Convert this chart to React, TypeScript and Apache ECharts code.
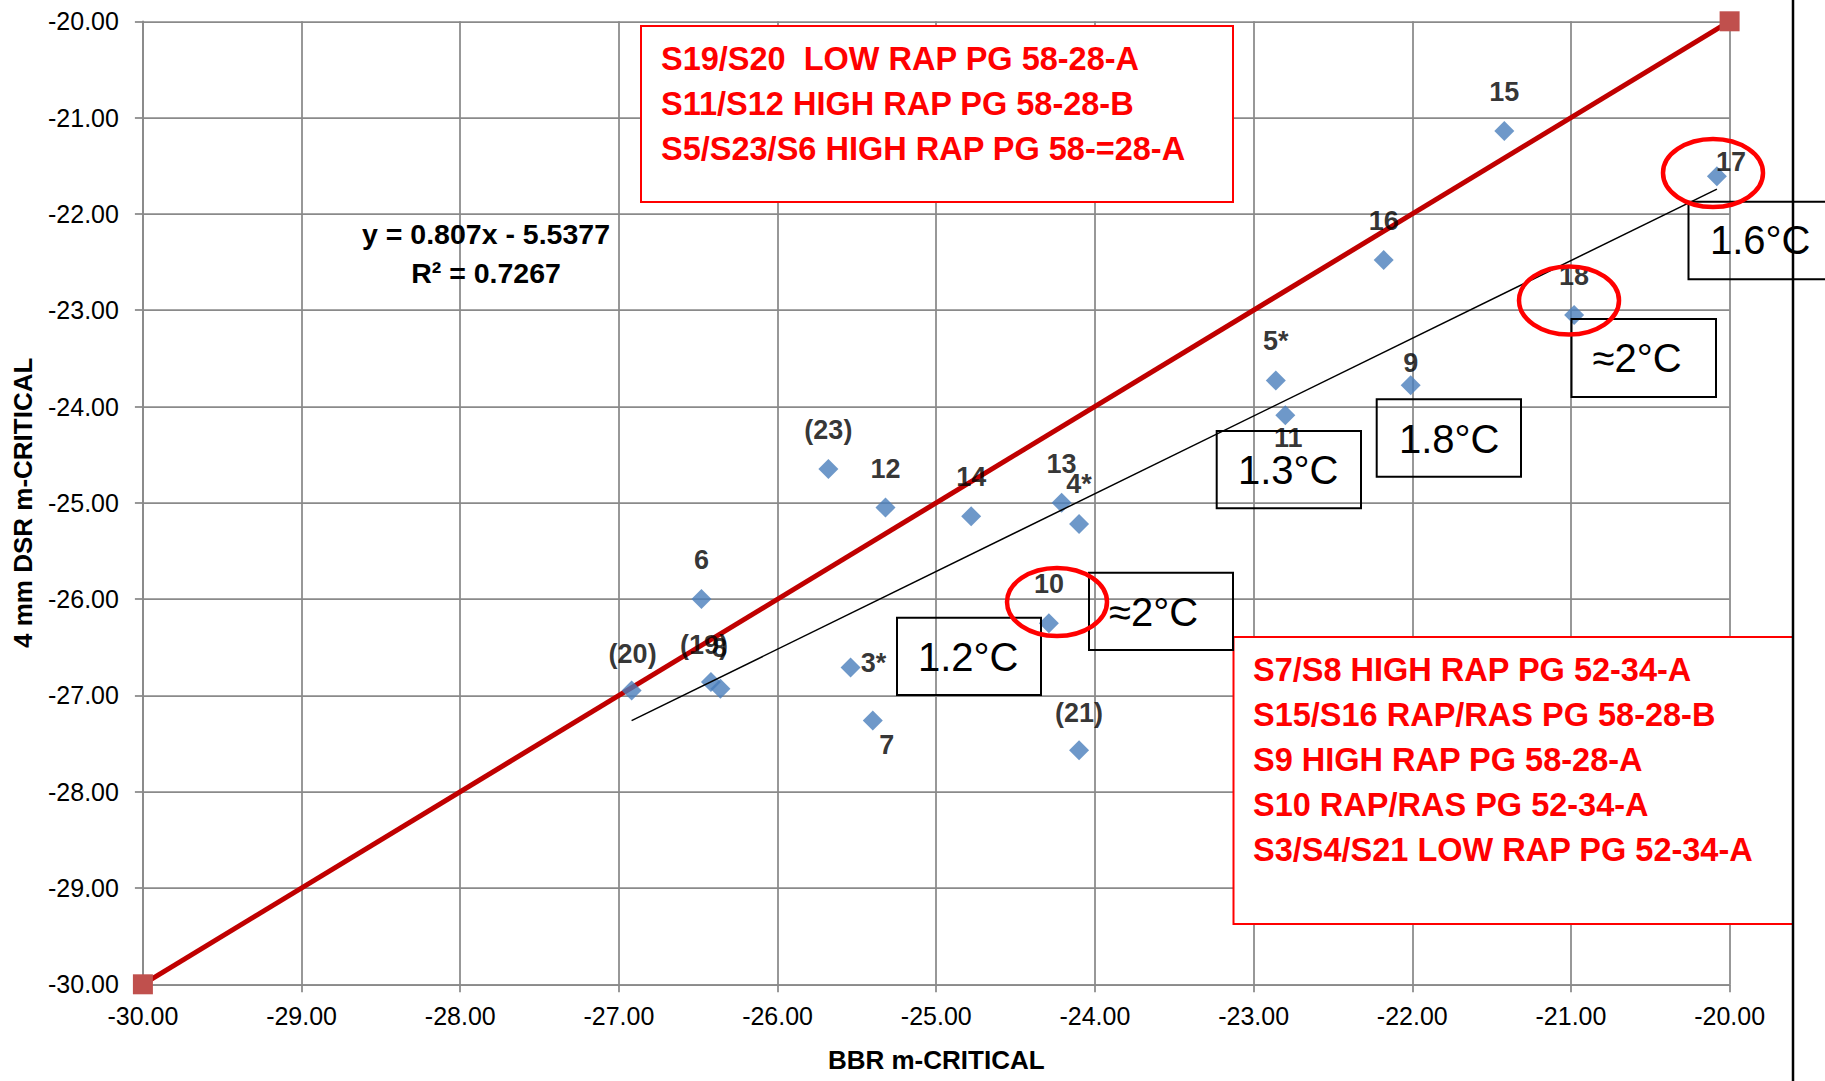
import React, { useEffect, useRef } from 'react';
import * as echarts from 'echarts';

const FONT = "'Liberation Sans', Arial, sans-serif";

// ---- Data ----
const POINT_LABELS = ['15', '17', '16', '18', '5*', '9', '11', '(23)', '12', '14', '13', '4*', '6', '10', '(20)', '(19)', '8', '3*', '7', '(21)'];
const BBR_X = [-21.42, -20.08, -22.18, -20.98, -22.86, -22.01, -22.80, -25.68, -25.32, -24.78, -24.21, -24.10, -26.48, -24.29, -26.92, -26.42, -26.36, -25.54, -25.40, -24.10];
const DSR_Y = [-21.14, -21.61, -22.48, -23.05, -23.73, -23.78, -24.09, -24.65, -25.05, -25.14, -25.00, -25.22, -26.00, -26.25, -26.95, -26.86, -26.93, -26.71, -27.26, -27.57];

const EQUALITY_X = [-30, -20];
const EQUALITY_Y = [-30, -20];

const TREND_SLOPE = 0.807;
const TREND_INTERCEPT = -5.5377;
const TREND_R2 = 0.7267;

const AXIS_MIN = -30;
const AXIS_MAX = -20;
const AXIS_STEP = 1;

const TOP_NOTES = ['S19/S20  LOW RAP PG 58-28-A', 'S11/S12 HIGH RAP PG 58-28-B', 'S5/S23/S6 HIGH RAP PG 58-=28-A'];
const BOTTOM_NOTES = ['S7/S8 HIGH RAP PG 52-34-A', 'S15/S16 RAP/RAS PG 58-28-B', 'S9 HIGH RAP PG 58-28-A', 'S10 RAP/RAS PG 52-34-A', 'S3/S4/S21 LOW RAP PG 52-34-A'];
const TEMP_NOTES = ['1.6°C', '≈2°C', '1.8°C', '1.3°C', '≈2°C', '1.2°C'];

// ---- Layout / style (not data) ----
const DEFAULT_LABEL_OFFSET = [0, -39];
const LABEL_OFFSETS: Record<string, number[]> = {
  '17': [14, -14],
  '9': [0, -22],
  '11': [3, 23],
  '3*': [23, -4],
  '7': [14, 25],
  '(19)': [-7, -37],
  '8': [-1, -41],
  '4*': [0, -40],
  '(20)': [1, -37],
  '(21)': [0, -37],
};
const TEMP_BOXES = [
  { x: 1688.5, y: 201.7, w: 160, h: 77.6, tx: 1710, ty: 240 },
  { x: 1571.5, y: 319, w: 144.5, h: 78, tx: 1592.6, ty: 358 },
  { x: 1376.7, y: 399.3, w: 144.3, h: 77.4, tx: 1399, ty: 439 },
  { x: 1216.7, y: 431, w: 144.3, h: 77.3, tx: 1238, ty: 470 },
  { x: 1089, y: 572.7, w: 144, h: 77.3, tx: 1109, ty: 611.7 },
  { x: 897, y: 617.7, w: 144, h: 77.3, tx: 918, ty: 656.7 },
];
const ELLIPSES = [
  { cx: 1713, cy: 173 },
  { cx: 1569, cy: 300.5 },
  { cx: 1057, cy: 602 },
];

function buildOption() {
  const xMin = Math.min(...BBR_X);
  const xMax = Math.max(...BBR_X);
  const trendData = [
    [xMin, TREND_SLOPE * xMin + TREND_INTERCEPT],
    [xMax, TREND_SLOPE * xMax + TREND_INTERCEPT],
  ];
  const scatterData = BBR_X.map((x, i) => ({
    value: [x, DSR_Y[i]],
    name: POINT_LABELS[i],
    label: { offset: LABEL_OFFSETS[POINT_LABELS[i]] ?? DEFAULT_LABEL_OFFSET },
  }));
  const equalityData = EQUALITY_X.map((x, i) => [x, EQUALITY_Y[i]]);

  const gridColor = '#8a8a8a';
  const axisCommon = {
    type: 'value',
    min: AXIS_MIN,
    max: AXIS_MAX,
    interval: AXIS_STEP,
    axisLine: { show: true, lineStyle: { color: gridColor, width: 1.75 } },
    axisTick: { show: true, length: 8, lineStyle: { color: gridColor, width: 1.75 } },
    splitLine: { show: true, lineStyle: { color: gridColor, width: 1.75 } },
    axisLabel: {
      color: '#000',
      fontSize: 25,
      fontFamily: FONT,
      formatter: (v: number) => v.toFixed(2),
    },
    nameTextStyle: { color: '#000', fontSize: 26, fontWeight: 'bold', fontFamily: FONT },
    nameLocation: 'middle',
  };

  const graphic: any[] = [];
  // Red note boxes
  graphic.push({
    type: 'rect', z: 100, shape: { x: 641, y: 26, width: 592, height: 176 },
    style: { fill: '#fff', stroke: '#ff0000', lineWidth: 2 },
  });
  TOP_NOTES.forEach((t, i) => graphic.push({
    type: 'text', z: 101, x: 661, y: 59.3 + i * 45,
    style: { text: t, fill: '#ff0000', fontSize: 32.5, fontWeight: 'bold', fontFamily: FONT, verticalAlign: 'middle', align: 'left' },
  }));
  graphic.push({
    type: 'rect', z: 100, shape: { x: 1233.5, y: 637, width: 559.5, height: 287 },
    style: { fill: '#fff', stroke: '#ff0000', lineWidth: 2 },
  });
  BOTTOM_NOTES.forEach((t, i) => graphic.push({
    type: 'text', z: 101, x: 1253, y: 670 + i * 45,
    style: { text: t, fill: '#ff0000', fontSize: 32.5, fontWeight: 'bold', fontFamily: FONT, verticalAlign: 'middle', align: 'left' },
  }));
  // Temperature boxes
  TEMP_BOXES.forEach((b, i) => {
    graphic.push({
      type: 'rect', z: 100, shape: { x: b.x, y: b.y, width: b.w, height: b.h },
      style: { fill: 'rgba(0,0,0,0)', stroke: '#000', lineWidth: 2 },
    });
    graphic.push({
      type: 'text', z: 101, x: b.tx, y: b.ty,
      style: { text: TEMP_NOTES[i], fill: '#000', fontSize: 40, fontFamily: FONT, verticalAlign: 'middle', align: 'left' },
    });
  });
  // Ellipses
  ELLIPSES.forEach((e) => graphic.push({
    type: 'ellipse', z: 102, shape: { cx: e.cx, cy: e.cy, rx: 50, ry: 34 },
    style: { fill: 'rgba(0,0,0,0)', stroke: '#ff0000', lineWidth: 4.5 },
  }));
  // Trendline equation
  graphic.push({
    type: 'text', z: 101, x: 486, y: 234,
    style: { text: `y = ${TREND_SLOPE}x - ${Math.abs(TREND_INTERCEPT)}`, fill: '#000', fontSize: 28.5, fontWeight: 'bold', fontFamily: FONT, align: 'center', verticalAlign: 'middle' },
  });
  graphic.push({
    type: 'text', z: 101, x: 486, y: 273,
    style: { text: `R² = ${TREND_R2}`, fill: '#000', fontSize: 28.5, fontWeight: 'bold', fontFamily: FONT, align: 'center', verticalAlign: 'middle' },
  });
  // Vertical border line at right
  graphic.push({
    type: 'line', z: 103, shape: { x1: 1793, y1: 0, x2: 1793, y2: 1081 },
    style: { stroke: '#000', lineWidth: 2.5 },
  });

  return {
    animation: false,
    backgroundColor: '#fff',
    grid: { left: 142.9, right: 95.4, top: 21.3, bottom: 96.7 },
    xAxis: {
      ...axisCommon,
      name: 'BBR m-CRITICAL',
      nameGap: 63,
      axisLabel: { ...axisCommon.axisLabel, margin: 19 },
    },
    yAxis: {
      ...axisCommon,
      name: '4 mm DSR m-CRITICAL',
      nameGap: 107,
      axisLabel: { ...axisCommon.axisLabel, margin: 24 },
    },
    series: [
      {
        type: 'line',
        data: equalityData,
        z: 2,
        clip: false,
        symbol: 'rect',
        symbolSize: 20,
        showAllSymbol: true,
        itemStyle: { color: '#C0504D' },
        lineStyle: { color: '#C00000', width: 5 },
      },
      {
        type: 'scatter',
        data: scatterData,
        z: 3,
        symbol: 'diamond',
        symbolSize: 20,
        itemStyle: { color: '#4A7EBB' },
        label: {
          show: true,
          position: 'inside',
          formatter: '{b}',
          color: '#000',
          fontSize: 27,
          fontWeight: 'bold',
          fontFamily: FONT,
          textBorderWidth: 0,
          textBorderColor: 'transparent',
        },
      },
      {
        type: 'line',
        data: trendData,
        z: 4,
        symbol: 'none',
        lineStyle: { color: '#000', width: 1.5 },
      },
    ],
    graphic,
  };
}

export default function App() {
  const ref = useRef<HTMLDivElement>(null);
  useEffect(() => {
    document.body.style.margin = '0';
    const chart = echarts.init(ref.current!, null, { renderer: 'svg' });
    chart.setOption(buildOption() as any);
    return () => chart.dispose();
  }, []);
  return <div ref={ref} style={{ width: 1825, height: 1081, background: '#fff' }} />;
}
